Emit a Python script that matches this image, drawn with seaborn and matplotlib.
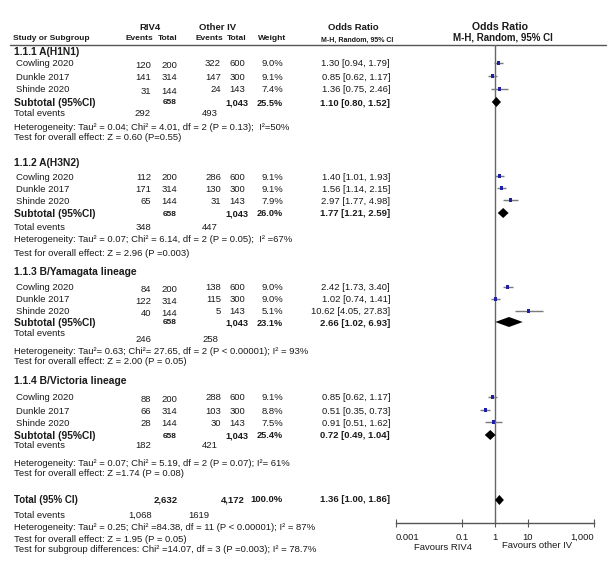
import matplotlib
matplotlib.use("Agg")
import matplotlib.pyplot as plt
import seaborn as sns
import numpy as np
import pandas as pd

# ---------------- data ----------------
groups = ["1.1.1 A(H1N1)", "1.1.2 A(H3N2)", "1.1.3 B/Yamagata lineage", "1.1.4 B/Victoria lineage"]
studies = ["Cowling 2020", "Dunkle 2017", "Shinde 2020"]
riv4_events = [[120, 141, 31], [112, 171, 65], [84, 122, 40], [88, 66, 28]]
riv4_total = [200, 314, 144]
other_events = [[322, 147, 24], [286, 130, 31], [138, 115, 5], [288, 103, 30]]
other_total = [600, 300, 143]
weights = [["9.0%", "9.1%", "7.4%"], ["9.1%", "9.1%", "7.9%"],
           ["9.0%", "9.0%", "5.1%"], ["9.1%", "8.8%", "7.5%"]]
or_est = [[1.30, 0.85, 1.36], [1.40, 1.56, 2.97], [2.42, 1.02, 10.62], [0.85, 0.51, 0.91]]
or_lo = [[0.94, 0.62, 0.75], [1.01, 1.14, 1.77], [1.73, 0.74, 4.05], [0.62, 0.35, 0.51]]
or_hi = [[1.79, 1.17, 2.46], [1.93, 2.15, 4.98], [3.40, 1.41, 27.83], [1.17, 0.73, 1.62]]
sub_riv4_total = "658"
sub_other_total = "1,043"
sub_weight = ["25.5%", "26.0%", "23.1%", "25.4%"]
sub_est = [1.10, 1.77, 2.66, 0.72]
sub_lo = [0.80, 1.21, 1.02, 0.49]
sub_hi = [1.52, 2.59, 6.93, 1.04]
sub_events_riv4 = ["292", "348", "246", "182"]
sub_events_other = ["493", "447", "258", "421"]
het_texts = [
    "Heterogeneity: Tau\u00b2 = 0.04; Chi\u00b2 = 4.01, df = 2 (P = 0.13);  I\u00b2=50%",
    "Heterogeneity: Tau\u00b2 = 0.07; Chi\u00b2 = 6.14, df = 2 (P = 0.05);  I\u00b2 =67%",
    "Heterogeneity: Tau\u00b2= 0.63; Chi\u00b2= 27.65, df = 2 (P < 0.00001); I\u00b2 = 93%",
    "Heterogeneity: Tau\u00b2 = 0.07; Chi\u00b2 = 5.19, df = 2 (P = 0.07); I\u00b2= 61%",
]
test_texts = [
    "Test for overall effect: Z = 0.60 (P=0.55)",
    "Test for overall effect: Z = 2.96 (P =0.003)",
    "Test for overall effect: Z = 2.00 (P = 0.05)",
    "Test for overall effect: Z =1.74 (P = 0.08)",
]
total_riv4 = "2,632"
total_other = "4,172"
total_weight = "100.0%"
total_est, total_lo, total_hi = 1.36, 1.00, 1.86
total_events_riv4 = "1,068"
total_events_other = "1619"
total_het = "Heterogeneity: Tau\u00b2 = 0.25; Chi\u00b2 =84.38, df = 11 (P < 0.00001); I\u00b2 = 87%"
total_test = "Test for overall effect: Z = 1.95 (P = 0.05)"
subgroup_test = "Test for subgroup differences: Chi\u00b2 =14.07, df = 3 (P =0.003); I\u00b2 = 78.7%"
xticks = [0.001, 0.1, 1, 10, 1000]
xtick_labels = ["0.001", "0.1", "1", "10", "1,000"]

# ---------------- layout (pixel rows) ----------------
grp_header_y = [52, 163, 272, 381]
study_y = [[64, 77, 90], [177, 189, 201], [288, 300, 312], [398, 411, 423]]
subtotal_y = [103, 214, 323, 436]
tot_ev_y = [114, 227, 334, 446]
tot_ev_num_y = [114, 227, 340, 446]
het_y = [127, 239, 351, 463]
test_y = [138, 254, 362, 474]
total_y = 500

sns.set_theme(style="white")
plt.rcParams["font.family"] = ["Liberation Sans", "DejaVu Sans"]

W, H = 612, 576
fig = plt.figure(figsize=(W / 100, H / 100), dpi=100)
bg = fig.add_axes([0, 0, 1, 1])
bg.set_xlim(0, W)
bg.set_ylim(H, 0)
bg.axis("off")

TC = "#1a1a1a"
FS = 6.8


def t(x, y, s, ha="left", bold=False, fs=FS, **kw):
    bg.text(x, y, s, ha=ha, va="center", fontsize=fs,
            fontweight="bold" if bold else "normal", color=TC, **kw)


# column anchors
X_NAME = 14
X_EV1 = 151
X_TOT1 = 177
X_EV2 = 221
X_TOT2 = 245
X_WT = 283
X_CI = 390

# headers
t(150, 27, "RIV4", ha="center", bold=True, fs=6.8)
t(218, 27, "Other IV", ha="center", bold=True, fs=6.8)
t(13, 39, "Study or Subgroup", bold=True, fs=6.0)
t(139, 39, "Events", ha="center", bold=True, fs=6.0)
t(168, 39, "Total", ha="center", bold=True, fs=6.0)
t(209, 39, "Events", ha="center", bold=True, fs=6.0)
t(237, 39, "Total", ha="center", bold=True, fs=6.0)
t(272, 39, "Weight", ha="center", bold=True, fs=6.0)
t(353, 28, "Odds Ratio", ha="center", bold=True, fs=6.8)
t(357, 40, "M-H, Random, 95% CI", ha="center", bold=True, fs=5.0)
t(500, 27, "Odds Ratio", ha="center", bold=True, fs=7.6)
t(503, 37, "M-H, Random, 95% CI", ha="center", bold=True, fs=7.0)
bg.plot([10, 606], [44.5, 44.5], color="#555555", lw=1.0)

# table rows
for g in range(4):
    t(X_NAME, grp_header_y[g], groups[g], bold=True, fs=7.4)
    for i in range(3):
        y = study_y[g][i]
        t(X_NAME + 2, y, studies[i])
        t(X_EV1, y + 1, str(riv4_events[g][i]), ha="right")
        t(X_TOT1, y + 1, str(riv4_total[i]), ha="right")
        t(X_EV2, y, str(other_events[g][i]), ha="right")
        t(X_TOT2, y, str(other_total[i]), ha="right")
        t(X_WT, y, weights[g][i], ha="right")
        t(X_CI, y, f"{or_est[g][i]:.2f} [{or_lo[g][i]:.2f}, {or_hi[g][i]:.2f}]", ha="right")
    ys = subtotal_y[g]
    t(X_NAME, ys, "Subtotal (95%CI)", bold=True, fs=7.4)
    t(X_TOT1, ys, sub_riv4_total, ha="right", bold=True, fs=6.0)
    t(X_TOT2 + 3, ys, sub_other_total, ha="right", bold=True, fs=6.6)
    t(X_WT, ys, sub_weight[g], ha="right", bold=True, fs=6.6)
    t(X_CI, ys, f"{sub_est[g]:.2f} [{sub_lo[g]:.2f}, {sub_hi[g]:.2f}]", ha="right", bold=True)
    t(X_NAME, tot_ev_y[g], "Total events")
    t(143, tot_ev_num_y[g], sub_events_riv4[g], ha="center")
    t(210, tot_ev_num_y[g], sub_events_other[g], ha="center")
    t(X_NAME, het_y[g], het_texts[g])
    t(X_NAME, test_y[g], test_texts[g])

# overall
t(X_NAME, total_y, "Total (95% CI)", bold=True, fs=7.0)
t(X_TOT1 + 1, total_y, total_riv4, ha="right", bold=True)
t(X_TOT2, total_y, total_other, ha="right", bold=True)
t(X_WT, total_y, total_weight, ha="right", bold=True)
t(X_CI, total_y, f"{total_est:.2f} [{total_lo:.2f}, {total_hi:.2f}]", ha="right", bold=True)
t(X_NAME, 515, "Total events")
t(140, 515, total_events_riv4, ha="center")
t(199, 515, total_events_other, ha="center")
t(X_NAME, 528, total_het)
t(X_NAME, 539, total_test)
t(X_NAME, 549, subgroup_test)

# ---------------- forest axes ----------------
ax_left, ax_right = 396, 594
ax_top, ax_bot = 44.5, 523
fa = fig.add_axes([ax_left / W, (H - ax_bot) / H, (ax_right - ax_left) / W, (ax_bot - ax_top) / H])
fa.set_xscale("log")
fa.set_xlim(0.001, 1000)
fa.set_ylim(ax_bot, ax_top)
fa.patch.set_alpha(0)
for s in ["top", "left", "right"]:
    fa.spines[s].set_visible(False)
fa.spines["bottom"].set_color("#555555")
fa.spines["bottom"].set_linewidth(1.0)
fa.axvline(1, color="#666666", lw=1.0, zorder=1)

# study CIs and points
rows = []
for g in range(4):
    for i in range(3):
        rows.append(dict(y=study_y[g][i] - 1, est=or_est[g][i], lo=or_lo[g][i], hi=or_hi[g][i]))
df = pd.DataFrame(rows)
fa.hlines(df["y"], df["lo"], df["hi"], color="#7a7a7a", lw=1.0, zorder=2)
sns.scatterplot(data=df, x="est", y="y", marker="s", s=5, color="#1f1fa8",
                edgecolor="none", ax=fa, zorder=3, legend=False)

# diamonds
dh = 5.0
dia = [(subtotal_y[g] - 1, sub_est[g], sub_lo[g], sub_hi[g]) for g in range(4)]
dia.append((total_y, total_est, total_lo, total_hi))
for (y, e, lo, hi) in dia:
    fa.fill([lo, e, hi, e], [y, y - dh, y, y + dh], color="black", zorder=4, lw=0)

fa.set_xticks(xticks)
fa.set_xticklabels(xtick_labels)
fa.minorticks_off()
fa.xaxis.set_minor_locator(matplotlib.ticker.NullLocator())
fa.tick_params(axis="x", direction="inout", length=6, width=0.8, color="#555555",
               labelsize=6.8, labelcolor=TC, pad=4, bottom=True)
fa.set_yticks([])
fa.set_xlabel("")
fa.set_ylabel("")
labs = fa.get_xticklabels()
labs[0].set_horizontalalignment("left")
labs[-1].set_horizontalalignment("right")

t(443, 547, "Favours RIV4", ha="center", fs=6.8)
t(537, 545, "Favours other IV", ha="center", fs=6.8)

fig.savefig("out.png", dpi=100)
